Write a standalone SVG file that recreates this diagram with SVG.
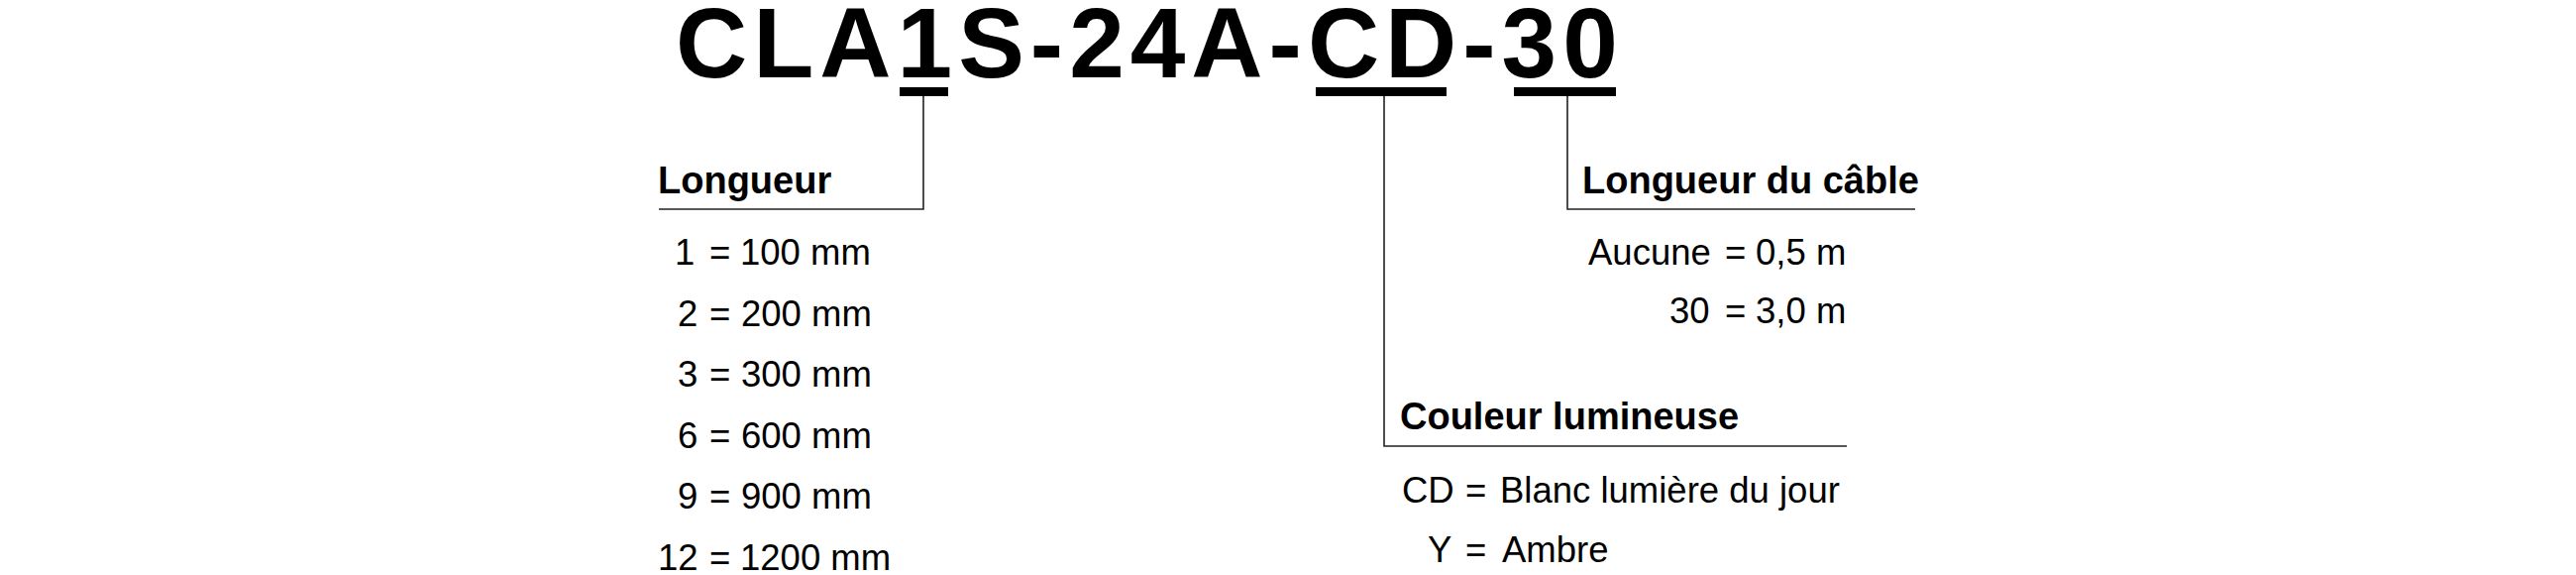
<svg xmlns="http://www.w3.org/2000/svg" width="2600" height="580" viewBox="0 0 2600 580">
<style>
.title{font-family:"Liberation Sans",Arial,sans-serif;font-weight:bold;font-size:100px;letter-spacing:6px;fill:#000}
.head{font-family:"Liberation Sans",Arial,sans-serif;font-weight:bold;font-size:38px;fill:#000}
.item{font-family:"Liberation Sans",Arial,sans-serif;font-size:36.5px;fill:#000}
.bar{fill:#000}
.conn{fill:none;stroke:#222;stroke-width:1.6}
</style>
<rect width="2600" height="580" fill="#fff"/>
<g id="title">
<text class="title" x="682" y="78">CLA1S-24A-CD-30</text>
<rect class="bar" x="908" y="88" width="49" height="9"/>
<rect class="bar" x="1328" y="88" width="132" height="9"/>
<rect class="bar" x="1528" y="88" width="103" height="9"/>
</g>
<g id="connectors">
<polyline class="conn" points="932,97 932,211 665,211"/>
<polyline class="conn" points="1397,97 1397,450 1864,450"/>
<polyline class="conn" points="1582,97 1582,211 1933,211"/>
</g>
<g id="longueur">
<text class="head" x="664" y="195">Longueur</text>
<text class="item" x="681" y="267">1</text><text class="item" x="716" y="267">=</text><text class="item" x="747" y="267">100 mm</text>
<text class="item" x="684" y="328.5">2</text><text class="item" x="716" y="328.5">=</text><text class="item" x="748" y="328.5">200 mm</text>
<text class="item" x="684" y="390">3</text><text class="item" x="716" y="390">=</text><text class="item" x="748" y="390">300 mm</text>
<text class="item" x="684" y="451.5">6</text><text class="item" x="716" y="451.5">=</text><text class="item" x="748" y="451.5">600 mm</text>
<text class="item" x="684" y="513">9</text><text class="item" x="716" y="513">=</text><text class="item" x="748" y="513">900 mm</text>
<text class="item" x="664" y="574.5">12</text><text class="item" x="716" y="574.5">=</text><text class="item" x="747" y="574.5">1200 mm</text>
</g>
<g id="longueur-cable">
<text class="head" x="1597" y="195">Longueur du câble</text>
<text class="item" x="1603" y="267">Aucune</text><text class="item" x="1741" y="267">=</text><text class="item" x="1772" y="267">0,5 m</text>
<text class="item" x="1685" y="326">30</text><text class="item" x="1741" y="326">=</text><text class="item" x="1772" y="326">3,0 m</text>
</g>
<g id="couleur">
<text class="head" x="1413" y="433">Couleur lumineuse</text>
<text class="item" x="1415" y="507">CD</text><text class="item" x="1479" y="507">=</text><text class="item" x="1514" y="507">Blanc lumière du jour</text>
<text class="item" x="1441" y="567">Y</text><text class="item" x="1479" y="567">=</text><text class="item" x="1516" y="567">Ambre</text>
</g>
</svg>
